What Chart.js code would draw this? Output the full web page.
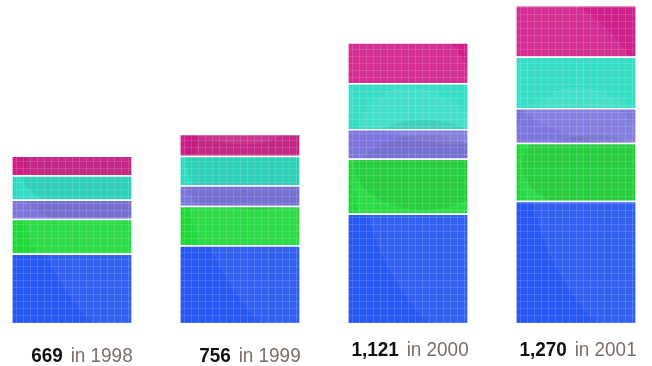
<!DOCTYPE html>
<html>
<head>
<meta charset="utf-8">
<script src="https://cdn.jsdelivr.net/npm/chart.js"></script>
<style>
  html, body { margin: 0; padding: 0; background: #fff; overflow: hidden; }
  #wrap { position: relative; width: 652px; height: 366px; overflow: hidden; }
  #chart { position: absolute; left: -12px; top: 0; }
</style>
</head>
<body>
<div id="wrap"><canvas id="chart" width="672" height="366"></canvas></div>
<script>
// données
const years = ["1998", "1999", "2000", "2001"];
const totals = [669, 756, 1121, 1270];
const blueVals = [278, 311, 437, 488];
const greenVals = [138, 157, 220, 232];
const purpleVals = [77, 82, 118, 139];
const tealVals = [97, 118, 184, 205];
const pinkVals = [79, 88, 162, 206];

// décalage vertical des étiquettes (comme sur l'original)
const labelBaselines = [362, 362, 356, 356];

const LABEL_FONT = '"Liberation Sans", Arial, sans-serif';
const SQUEEZE = 0.9; // police un peu condensée

// texture: couleur de base + reflets + petite grille blanche
function makePattern(base, seed) {
    const c = document.createElement("canvas");
    c.width = 168; c.height = 330;
    const g = c.getContext("2d");
    g.fillStyle = base;
    g.fillRect(0, 0, c.width, c.height);
    // reflets clairs
    g.fillStyle = "rgba(255,255,255,0.07)";
    g.beginPath();
    g.ellipse(40 + seed * 20, 60, 120, 70, 0.5, 0, Math.PI * 2);
    g.fill();
    g.fillStyle = "rgba(255,255,255,0.06)";
    g.beginPath();
    g.ellipse(130 - seed * 10, 220, 80, 140, -0.4, 0, Math.PI * 2);
    g.fill();
    // zone plus sombre
    g.fillStyle = "rgba(0,0,0,0.06)";
    g.beginPath();
    g.ellipse(100, 150 + seed * 15, 70, 45, 0, 0, Math.PI * 2);
    g.fill();
    // grille
    g.strokeStyle = "rgba(255,255,255,0.13)";
    g.lineWidth = 1;
    for (let x = 0.5; x < c.width; x += 7) {
        g.beginPath(); g.moveTo(x, 0); g.lineTo(x, c.height); g.stroke();
    }
    for (let y = 0.5; y < c.height; y += 7) {
        g.beginPath(); g.moveTo(0, y); g.lineTo(c.width, y); g.stroke();
    }
    return g.createPattern(c, "repeat");
}

function seg(label, data, color, seed) {
    return {
        label: label,
        data: data,
        backgroundColor: makePattern(color, seed),
        borderColor: "#ffffff",
        borderWidth: { top: 1.5, bottom: 0, left: 0, right: 0 },
        borderSkipped: false,
        barPercentage: 0.71,
        categoryPercentage: 1.0
    };
}

const labelPlugin = {
    id: "yearLabels",
    afterDatasetsDraw(chart) {
        const ctx = chart.ctx;
        const meta = chart.getDatasetMeta(0);
        meta.data.forEach((bar, i) => {
            const right = bar.x + bar.width / 2 + 1;
            const rest = " in " + years[i];
            ctx.save();
            ctx.translate(right, labelBaselines[i]);
            ctx.scale(SQUEEZE, 1);
            ctx.textAlign = "right";
            ctx.textBaseline = "alphabetic";
            ctx.font = "21px " + LABEL_FONT;
            ctx.fillStyle = "#7a6e68";
            ctx.fillText(rest, 0, 0);
            const w = ctx.measureText(rest).width;
            ctx.font = "bold 21px " + LABEL_FONT;
            ctx.fillStyle = "#111111";
            ctx.fillText(totals[i].toLocaleString("en-US"), -w - 3, 0);
            ctx.restore();
        });
    }
};

new Chart(document.getElementById("chart").getContext("2d"), {
    type: "bar",
    data: {
        labels: years,
        datasets: [
            seg("Bleu", blueVals, "#2858f2", 0),
            seg("Vert", greenVals, "#1fd93a", 1),
            seg("Violet", purpleVals, "#7670dc", 2),
            seg("Turquoise", tealVals, "#29dcc2", 1),
            seg("Rose", pinkVals, "#d01f8b", 0)
        ]
    },
    options: {
        responsive: false,
        animation: false,
        devicePixelRatio: 1,
        layout: { padding: { top: 0, bottom: 43, left: 0, right: 0 } },
        plugins: {
            legend: { display: false },
            tooltip: { enabled: false }
        },
        scales: {
            x: { stacked: true, display: false },
            y: { stacked: true, display: false, min: 0, max: 1290 }
        }
    },
    plugins: [labelPlugin]
});
</script>
</body>
</html>
